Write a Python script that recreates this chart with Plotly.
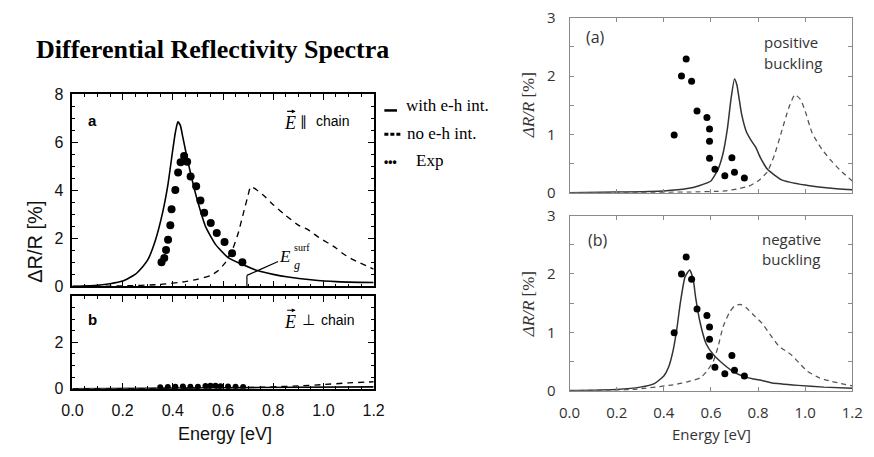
import plotly.graph_objects as go

# ---------------- data ----------------
# Left panel (a): E || chain
la_with_x = [0, 0.1, 0.15, 0.2, 0.25, 0.28, 0.3, 0.33, 0.36, 0.38, 0.4, 0.41, 0.42, 0.43, 0.44, 0.46,
             0.48, 0.5, 0.53, 0.57, 0.62, 0.68, 0.74, 0.8, 0.86, 0.95, 1.05, 1.2]
la_with_y = [0, 0.05, 0.11, 0.22, 0.5, 0.82, 1.1, 1.9, 3.1, 4.2, 5.7, 6.4, 6.85, 6.7, 6.2, 5.2,
             4.3, 3.5, 2.5, 1.75, 1.2, 0.9, 0.65, 0.5, 0.39, 0.28, 0.2, 0.16]
la_no_x = [0, 0.2, 0.35, 0.45, 0.5, 0.55, 0.58, 0.61, 0.64, 0.66, 0.68, 0.7, 0.71, 0.73, 0.76, 0.8,
           0.85, 0.9, 0.94, 0.98, 1.05, 1.08, 1.12, 1.2]
la_no_y = [0, 0.02, 0.08, 0.2, 0.3, 0.45, 0.65, 1.0, 1.6, 2.2, 3.0, 3.8, 4.15, 4.05, 3.8, 3.4,
           2.95, 2.55, 2.35, 2.05, 1.6, 1.35, 1.1, 0.72]
la_exp_x = [0.355, 0.366, 0.373, 0.381, 0.39, 0.395, 0.41, 0.421, 0.431, 0.445, 0.457, 0.471, 0.493,
            0.51, 0.525, 0.551, 0.575, 0.606, 0.636, 0.677]
la_exp_y = [1.01, 1.18, 1.51, 1.94, 2.55, 3.21, 4.01, 4.74, 5.17, 5.43, 5.19, 4.57, 4.17,
            3.57, 3.07, 2.64, 2.22, 1.85, 1.38, 1.01]

# Left panel (b): E perpendicular chain
lb_with_x = [0, 0.3, 0.6, 0.9, 1.2]
lb_with_y = [0, 0.02, 0.04, 0.06, 0.08]
lb_no_x = [0, 0.4, 0.7, 0.9, 1.0, 1.1, 1.2]
lb_no_y = [0, 0.01, 0.05, 0.12, 0.18, 0.25, 0.3]
lb_exp_x = [0.35, 0.38, 0.41, 0.44, 0.47, 0.5, 0.53, 0.55, 0.57, 0.59, 0.62, 0.65, 0.68]
lb_exp_y = [0.06, 0.07, 0.08, 0.1, 0.08, 0.09, 0.12, 0.13, 0.13, 0.11, 0.1, 0.09, 0.07]

# Right panel (a): positive buckling
ra_with_x = [0, 0.2, 0.4, 0.5, 0.55, 0.6, 0.63, 0.65, 0.67, 0.685, 0.7, 0.71, 0.73, 0.75, 0.77,
             0.79, 0.81, 0.84, 0.9, 1.0, 1.1, 1.2]
ra_with_y = [0, 0.01, 0.03, 0.07, 0.12, 0.2, 0.4, 0.65, 1.1, 1.6, 1.95, 1.85, 1.35, 1.05, 0.9,
             0.78, 0.6, 0.4, 0.22, 0.13, 0.08, 0.05]
ra_no_x = [0, 0.3, 0.5, 0.66, 0.72, 0.76, 0.8, 0.84, 0.87, 0.9, 0.93, 0.956, 0.98, 1.0, 1.03,
           1.07, 1.11, 1.15, 1.2]
ra_no_y = [0, 0.005, 0.01, 0.03, 0.07, 0.11, 0.2, 0.36, 0.65, 1.05, 1.45, 1.68, 1.6, 1.4, 1.02,
           0.75, 0.55, 0.38, 0.2]

# Right panel (b): negative buckling
rb_with_x = [0, 0.2, 0.3, 0.36, 0.4, 0.42, 0.44, 0.455, 0.47, 0.49, 0.51, 0.525, 0.535, 0.555,
             0.58, 0.61, 0.64, 0.69, 0.74, 0.78, 0.82, 0.86, 0.97, 1.08, 1.2]
rb_with_y = [0, 0.02, 0.06, 0.12, 0.25, 0.4, 0.7, 1.05, 1.5, 1.95, 2.07, 1.9, 1.6, 1.15,
             0.8, 0.62, 0.5, 0.34, 0.24, 0.2, 0.17, 0.13, 0.09, 0.06, 0.04]
rb_no_x = [0, 0.27, 0.44, 0.5, 0.555, 0.58, 0.61, 0.63, 0.652, 0.68, 0.7, 0.724, 0.75, 0.78,
           0.818, 0.85, 0.887, 0.942, 0.98, 1.01, 1.06, 1.11, 1.2]
rb_no_y = [0, 0.02, 0.1, 0.15, 0.22, 0.32, 0.5, 0.75, 1.1, 1.35, 1.45, 1.48, 1.42, 1.3,
           1.15, 0.97, 0.77, 0.61, 0.45, 0.33, 0.22, 0.16, 0.08]

# Experimental points (same in both right panels)
r_exp_x = [0.444, 0.475, 0.495, 0.518, 0.541, 0.583, 0.594, 0.594, 0.594, 0.617, 0.659, 0.689,
           0.70, 0.742]
r_exp_y = [0.99, 2.0, 2.29, 1.91, 1.40, 1.29, 1.09, 0.88, 0.59, 0.40, 0.29, 0.60, 0.35, 0.25]

x_ticks = [0.0, 0.2, 0.4, 0.6, 0.8, 1.0, 1.2]
x_ticklabels = ["0.0", "0.2", "0.4", "0.6", "0.8", "1.0", "1.2"]

# ---------------- layout helpers ----------------
W, H = 874, 457


def fx(px):
    return px / W


def fy(py):
    return 1 - py / H


fig = go.Figure()

LEFT_FONT = "Liberation Sans, Arial, sans-serif"
RIGHT_FONT = "Open Sans, sans-serif"
SERIF = "Liberation Serif, Times New Roman, serif"


def add_set(xa, ya, wx, wy, nx, ny, ex, ey, col_solid, col_dash, msize, lw, dash):
    fig.add_trace(go.Scatter(x=wx, y=wy, mode="lines", xaxis=xa, yaxis=ya,
                             line=dict(color=col_solid, width=lw, shape="spline", smoothing=0.5),
                             showlegend=False))
    fig.add_trace(go.Scatter(x=nx, y=ny, mode="lines", xaxis=xa, yaxis=ya,
                             line=dict(color=col_dash, width=lw * 0.85, dash=dash, shape="spline",
                                       smoothing=0.5),
                             showlegend=False))
    fig.add_trace(go.Scatter(x=ex, y=ey, mode="markers", xaxis=xa, yaxis=ya,
                             marker=dict(color="black", size=msize), showlegend=False))


add_set("x", "y", la_with_x, la_with_y, la_no_x, la_no_y, la_exp_x, la_exp_y,
        "black", "black", 8, 1.6, "6px,5px")
add_set("x2", "y2", lb_with_x, lb_with_y, lb_no_x, lb_no_y, lb_exp_x, lb_exp_y,
        "black", "black", 6, 1.6, "6px,5px")
add_set("x3", "y3", ra_with_x, ra_with_y, ra_no_x, ra_no_y, r_exp_x, r_exp_y,
        "#333333", "#555555", 7, 1.5, "5px,4px")
add_set("x4", "y4", rb_with_x, rb_with_y, rb_no_x, rb_no_y, r_exp_x, r_exp_y,
        "#333333", "#555555", 7, 1.5, "5px,4px")

left_x_dom = [fx(63), fx(372)]
right_x_dom = [fx(573), fx(863)]


def left_x(anchor, show):
    return dict(domain=left_x_dom, range=[0, 1.2], anchor=anchor, showgrid=False, zeroline=False,
                showline=True, linecolor="black", linewidth=1.5, mirror="ticks",
                ticks="inside", ticklen=6, tickwidth=1.2, tickcolor="black",
                tickvals=x_ticks, ticktext=x_ticklabels, showticklabels=show,
                tickfont=dict(family=LEFT_FONT, size=16, color="#111"), ticklabelstandoff=6,
                minor=dict(dtick=0.05, tick0=0, ticks="inside", ticklen=3, tickcolor="black",
                           tickwidth=1))


def left_y(anchor, dom, rng, vals, texts):
    return dict(domain=dom, range=rng, anchor=anchor, showgrid=False, zeroline=False,
                showline=True, linecolor="black", linewidth=1.5, mirror="ticks",
                ticks="inside", ticklen=6, tickwidth=1.2, tickcolor="black",
                tickvals=vals, ticktext=texts,
                tickfont=dict(family=LEFT_FONT, size=16, color="#111"), ticklabelstandoff=4,
                minor=dict(dtick=0.5, tick0=0, ticks="inside", ticklen=3, tickcolor="black",
                           tickwidth=1))


def right_x(anchor, show):
    return dict(domain=right_x_dom, range=[0, 1.2], anchor=anchor, showgrid=False, zeroline=False,
                showline=True, linecolor="#8a8a8a", linewidth=1.2, mirror="ticks",
                ticks="inside", ticklen=4, tickwidth=1, tickcolor="#8a8a8a",
                tickvals=x_ticks, ticktext=x_ticklabels, showticklabels=show,
                tickfont=dict(family=RIGHT_FONT, size=15, color="#333"), ticklabelstandoff=8)


def right_y(anchor, dom):
    return dict(domain=dom, range=[0, 3], anchor=anchor, showgrid=False, zeroline=False,
                showline=True, linecolor="#8a8a8a", linewidth=1.2, mirror="ticks",
                ticks="inside", ticklen=4, tickwidth=1, tickcolor="#8a8a8a",
                tickvals=[0, 0.5, 1, 1.5, 2, 2.5, 3], ticktext=["0", "", "1", "", "2", "", "3"],
                tickfont=dict(family=RIGHT_FONT, size=15, color="#333"), ticklabelstandoff=10)


fig.update_layout(
    width=W, height=H, autosize=False,
    margin=dict(l=0, r=0, t=0, b=0),
    paper_bgcolor="white", plot_bgcolor="white",
    showlegend=False,
    xaxis=left_x("y", False),
    yaxis=left_y("x", [fy(288), fy(87)], [0, 8], [0, 2, 4, 6, 8], ["0", "2", "4", "6", "8"]),
    xaxis2=left_x("y2", True),
    yaxis2=left_y("x2", [fy(395), fy(298)], [0, 4], [0, 2, 4], ["0", "2", ""]),
    xaxis3=right_x("y3", False),
    yaxis3=right_y("x3", [fy(190), fy(7)]),
    xaxis4=right_x("y4", True),
    yaxis4=right_y("x4", [fy(397), fy(214)]),
)

ann = []


def text(px, py, t, size, family, color="black", xanchor="center", angle=0):
    ann.append(dict(x=fx(px), y=fy(py), xref="paper", yref="paper", text=t, showarrow=False,
                    xanchor=xanchor, yanchor="middle", textangle=angle,
                    font=dict(size=size, family=family, color=color)))


def vec_arrow(px, py):
    # small vector arrow drawn above the letter E
    ann.append(dict(x=fx(px + 5), y=fy(py), ax=-10, ay=0, xref="paper", yref="paper",
                    text="", showarrow=True, arrowhead=2,
                    arrowsize=0.7, arrowwidth=1.1, arrowcolor="black"))


# title
text(207, 40, "<b>Differential Reflectivity Spectra</b>", 26, SERIF)
# left axis titles
text(220, 442, "Energy [eV]", 18, LEFT_FONT, "#111")
text(25, 241, "ΔR/R [%]", 20, LEFT_FONT, "#111", angle=-90)
# left panel labels
text(84, 114, "<b>a</b>", 15, LEFT_FONT)
text(84, 323, "<b>b</b>", 15, LEFT_FONT)
# E || chain
text(286, 117, "<i>E</i>", 18, SERIF)
vec_arrow(287, 105)
text(300, 115, "∥", 14, "DejaVu Sans")
text(311, 115, "chain", 14, LEFT_FONT, xanchor="left")
# E perp chain
text(286, 325, "<i>E</i>", 18, SERIF)
vec_arrow(287, 313)
text(305, 323, "⊥", 15, "DejaVu Sans")
text(316, 323, "chain", 14, LEFT_FONT, xanchor="left")
# E_g^surf
text(281, 257, "<i>E</i>", 17, SERIF)
text(288, 247, "surf", 10, SERIF, xanchor="left")
text(288, 266, "<i>g</i>", 12, SERIF, xanchor="left")
# legend
text(403, 99, "with e-h int.", 17, SERIF, xanchor="left")
text(404, 128, "no e-h int.", 17, SERIF, xanchor="left")
text(413, 156, "Exp", 17, SERIF, xanchor="left")
text(381, 158, "<b>•••</b>", 12, "Liberation Sans", xanchor="left")
# right panel texts
text(600, 27, "(a)", 16, RIGHT_FONT, "#333")
text(770, 32, "positive", 15, RIGHT_FONT, "#333", xanchor="left")
text(770, 54, "buckling", 15, RIGHT_FONT, "#333", xanchor="left")
text(602, 240, "(b)", 16, RIGHT_FONT, "#333")
text(768, 238, "negative", 15, RIGHT_FONT, "#333", xanchor="left")
text(768, 259, "buckling", 15, RIGHT_FONT, "#333", xanchor="left")
text(719, 442, "Energy [eV]", 15, RIGHT_FONT, "#333")
text(531, 99, "<i>ΔR/R</i> [%]", 17, SERIF, "#333", angle=-90)
text(531, 307, "<i>ΔR/R</i> [%]", 17, SERIF, "#333", angle=-90)
fig.update_layout(annotations=ann)

# legend glyphs and E_g pointer lines (paper coordinates)
shapes = [
    dict(type="line", xref="paper", yref="paper", x0=fx(383), x1=fx(396), y0=fy(104), y1=fy(104),
         line=dict(color="black", width=2.5)),
    dict(type="line", xref="paper", yref="paper", x0=fx(383), x1=fx(400), y0=fy(129), y1=fy(129),
         line=dict(color="black", width=3, dash="4px,2px")),
    dict(type="line", xref="paper", yref="paper", x0=fx(274), x1=fx(242), y0=fy(262), y1=fy(276.5),
         line=dict(color="black", width=1.2)),
    dict(type="line", xref="paper", yref="paper", x0=fx(242), x1=fx(242), y0=fy(276.5), y1=fy(288),
         line=dict(color="black", width=1.2)),
]
fig.update_layout(shapes=shapes)

fig.write_html("out.html")
